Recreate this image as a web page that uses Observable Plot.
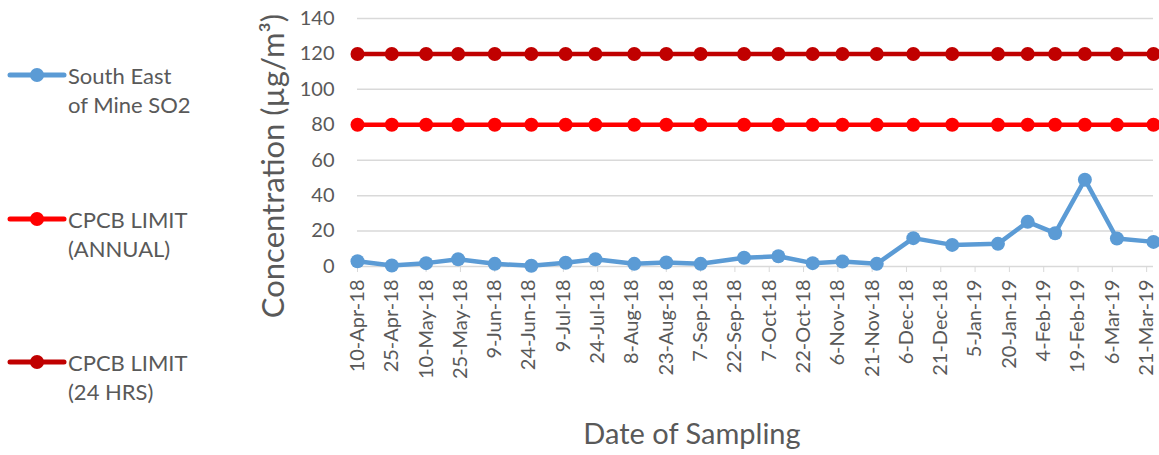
<!DOCTYPE html>
<html><head><meta charset="utf-8">
<script src="https://cdn.jsdelivr.net/npm/d3@7"></script>
<script src="https://cdn.jsdelivr.net/npm/@observablehq/plot@0.6"></script>
<style>
body{margin:0;background:#fff;font-family:Lato,sans-serif;color:#595959}
#wrap{position:relative;width:1159px;height:455px;overflow:hidden}
#wrap svg{position:absolute;left:0;top:0}
.leg{position:absolute;left:0;width:260px;height:60px}
.leg svg{position:absolute;left:0;top:0}
.leg .t{position:absolute;left:68px;top:0;font-size:22px;line-height:29px;color:#595959;white-space:nowrap}
.ytitle{position:absolute;left:272px;top:166px;transform:translate(-50%,-50%) rotate(-90deg);font-size:31px;white-space:nowrap;color:#595959}
.xtitle{position:absolute;left:692px;top:432px;transform:translate(-50%,-50%);font-size:29px;white-space:nowrap;color:#595959}
</style></head><body><div id="wrap"></div>
<script>
// Sampling dates and SO2 concentrations (µg/m³)
const samplingDates = ["2018-04-10","2018-04-25","2018-05-10","2018-05-24","2018-06-09","2018-06-25","2018-07-10","2018-07-23","2018-08-09","2018-08-23","2018-09-07","2018-09-26","2018-10-11","2018-10-26","2018-11-08","2018-11-23","2018-12-09","2018-12-26","2019-01-15","2019-01-28","2019-02-09","2019-02-22","2019-03-08","2019-03-24"];
const so2Values = [3.0,0.6,1.9,4.1,1.5,0.4,2.1,4.1,1.5,2.3,1.5,4.9,5.8,1.9,2.8,1.5,16.0,12.2,12.8,25.2,18.8,49.0,15.8,13.9];
const annualLimit = 80;
const dailyLimit = 120;
const seriesNames = ["South East of Mine SO2","CPCB LIMIT (ANNUAL)","CPCB LIMIT (24 HRS)"];
const seriesLegend = [["South East","of Mine SO2"],["CPCB LIMIT","(ANNUAL)"],["CPCB LIMIT","(24 HRS)"]];
const seriesColors = ["#5b9bd5","#ff0000","#c00000"];
const tickDates = ["2018-04-10","2018-04-25","2018-05-10","2018-05-25","2018-06-09","2018-06-24","2018-07-09","2018-07-24","2018-08-08","2018-08-23","2018-09-07","2018-09-22","2018-10-07","2018-10-22","2018-11-06","2018-11-21","2018-12-06","2018-12-21","2019-01-05","2019-01-20","2019-02-04","2019-02-19","2019-03-06","2019-03-21"];
const yTicks = [0,20,40,60,80,100,120,140];

const parse = d3.utcParse("%Y-%m-%d");
const rows = [];
samplingDates.forEach((d,i)=>{
  rows.push({date:parse(d), value:so2Values[i], series:seriesNames[0]});
  rows.push({date:parse(d), value:annualLimit, series:seriesNames[1]});
  rows.push({date:parse(d), value:dailyLimit, series:seriesNames[2]});
});
const fmt = d => `${d.getUTCDate()}-${d3.utcFormat("%b")(d)}-${d3.utcFormat("%y")(d)}`;

const chart = Plot.plot({
  width:1159, height:455,
  marginLeft:357, marginRight:6, marginTop:18, marginBottom:189,
  style:{fontFamily:"Lato, sans-serif", color:"#595959", background:"transparent"},
  x:{type:"utc", domain:[parse(samplingDates[0]), parse(samplingDates[samplingDates.length-1])]},
  y:{domain:[0,140]},
  color:{domain:seriesNames, range:seriesColors},
  marks:[
    Plot.gridY(yTicks.slice(1), {stroke:"#d9d9d9", strokeOpacity:1, strokeWidth:1.5}),
    Plot.ruleY([0], {stroke:"#d9d9d9", strokeWidth:1.5}),
    Plot.axisY({ticks:yTicks, tickSize:0, tickPadding:23, fontSize:20, label:null}),
    Plot.axisX({ticks:tickDates.map(parse), tickFormat:fmt, tickRotate:-90, tickSize:6, tickPadding:7, fontSize:20, label:null, stroke:"#d9d9d9"}),
    Plot.line(rows, {x:"date", y:"value", z:"series", stroke:"series", strokeWidth:4.5, curve:"linear"}),
    Plot.dot(rows, {x:"date", y:"value", fill:"series", r:7, stroke:null})
  ]
});
const wrap = document.getElementById("wrap");
wrap.appendChild(chart);

const legY = [75, 219, 362];
seriesNames.forEach((s,i)=>{
  const div = document.createElement("div");
  div.className="leg";
  div.style.top = (legY[i]-14)+"px";
  div.innerHTML = `<svg width="70" height="30"><line x1="10" x2="64" y1="14" y2="14" stroke="${seriesColors[i]}" stroke-width="5" stroke-linecap="round"/><circle cx="37" cy="14" r="7" fill="${seriesColors[i]}"/></svg><div class="t">${seriesLegend[i].join("<br>")}</div>`;
  wrap.appendChild(div);
});
const yt = document.createElement("div"); yt.className="ytitle"; yt.textContent="Concentration (µg/m³)"; wrap.appendChild(yt);
const xt = document.createElement("div"); xt.className="xtitle"; xt.textContent="Date of Sampling"; wrap.appendChild(xt);
</script></body></html>
